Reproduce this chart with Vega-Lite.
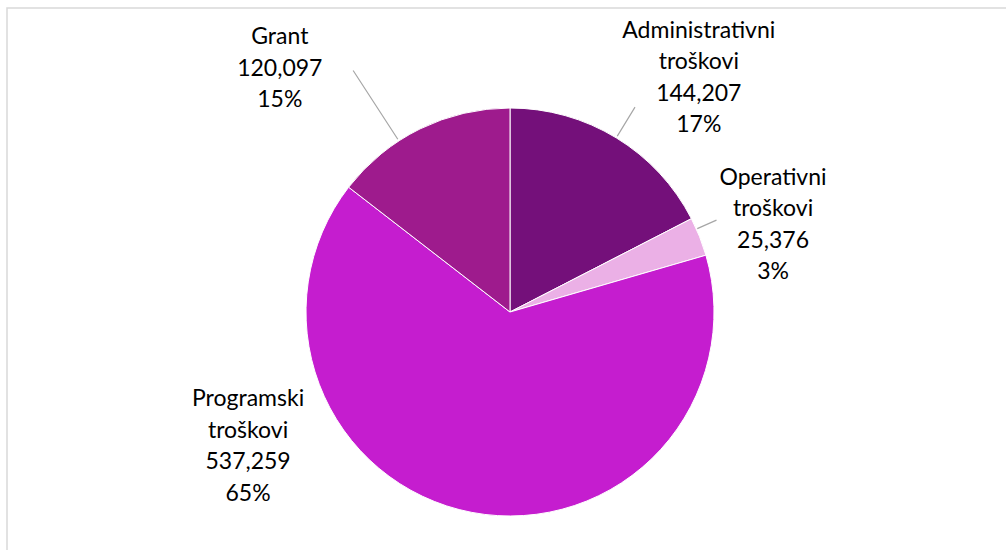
{
  "$schema": "https://vega.github.io/schema/vega-lite/v6.json",
  "width": 1006,
  "height": 608,
  "autosize": "none",
  "padding": {"left": 7, "top": 8, "right": 0, "bottom": 0},
  "background": "white",
  "view": {"stroke": "#d9d9d9", "strokeWidth": 1.5},
  "config": {"view": {"stroke": "#d9d9d9", "strokeWidth": 1.5}, "font": "Lato"},
  "data": {"values": [
    {"idx": 1, "category": "Administrativni troškovi", "value": 144207},
    {"idx": 2, "category": "Operativni troškovi", "value": 25376},
    {"idx": 3, "category": "Programski troškovi", "value": 537259},
    {"idx": 4, "category": "Grant", "value": 120097}
  ]},
  "transform": [
    {"joinaggregate": [{"op": "sum", "field": "value", "as": "total"}]},
    {"calculate": "datum.category + ' ' + format(datum.value, ',') + ' ' + format(datum.value / datum.total, '.0%')", "as": "label"}
  ],
  "encoding": {
    "theta": {"field": "value", "type": "quantitative", "stack": true},
    "order": {"field": "idx", "type": "quantitative"}
  },
  "layer": [
    {
      "mark": {"type": "arc", "radius": 204, "stroke": "white", "strokeWidth": 1},
      "encoding": {
        "color": {
          "field": "category", "type": "nominal", "legend": null,
          "scale": {
            "domain": ["Administrativni troškovi", "Operativni troškovi", "Programski troškovi", "Grant"],
            "range": ["#74107A", "#EBB0E6", "#C51DCF", "#9E1B8D"]
          }
        }
      }
    },
    {
      "mark": {"type": "arc", "radius": 240, "radius2": 206, "padAngle": 3.14159, "thetaOffset": 0, "fill": "transparent", "strokeWidth": 1.2},
      "encoding": {"stroke": {"condition": {"test": "datum.category === 'Administrativni troškovi'", "value": "#a6a6a6"}, "value": "transparent"}}
    },
    {
      "mark": {"type": "arc", "radius": 226, "radius2": 205, "padAngle": 3.14159, "thetaOffset": -0.0401, "fill": "transparent", "strokeWidth": 1.2},
      "encoding": {"stroke": {"condition": {"test": "datum.category === 'Operativni troškovi'", "value": "#a6a6a6"}, "value": "transparent"}}
    },
    {
      "mark": {"type": "arc", "radius": 288, "radius2": 206, "padAngle": 3.14159, "thetaOffset": -0.1197, "fill": "transparent", "strokeWidth": 1.2},
      "encoding": {"stroke": {"condition": {"test": "datum.category === 'Grant'", "value": "#a6a6a6"}, "value": "transparent"}}
    },
    {
      "mark": {"type": "text", "radius": 338.6, "thetaOffset": 0.0436, "fontSize": 23, "lineBreak": " ", "lineHeight": 31.5, "align": "center", "baseline": "middle", "color": "#000000"},
      "encoding": {"text": {"condition": {"test": "datum.category === 'Administrativni troškovi'", "field": "label"}, "value": ""}}
    },
    {
      "mark": {"type": "text", "radius": 295.2, "thetaOffset": -0.0925, "fontSize": 23, "lineBreak": " ", "lineHeight": 31.5, "align": "center", "baseline": "middle", "color": "#000000"},
      "encoding": {"text": {"condition": {"test": "datum.category === 'Operativni troškovi'", "field": "label"}, "value": ""}}
    },
    {
      "mark": {"type": "text", "radius": 276.1, "thetaOffset": 1.061, "fontSize": 23, "lineBreak": " ", "lineHeight": 31.5, "align": "center", "baseline": "middle", "color": "#000000"},
      "encoding": {"text": {"condition": {"test": "datum.category === 'Programski troškovi'", "field": "label"}, "value": ""}}
    },
    {
      "mark": {"type": "text", "radius": 358.5, "thetaOffset": -0.241, "fontSize": 23, "lineBreak": " ", "lineHeight": 31.5, "align": "center", "baseline": "middle", "color": "#000000"},
      "encoding": {"text": {"condition": {"test": "datum.category === 'Grant'", "field": "label"}, "value": ""}}
    }
  ]
}
